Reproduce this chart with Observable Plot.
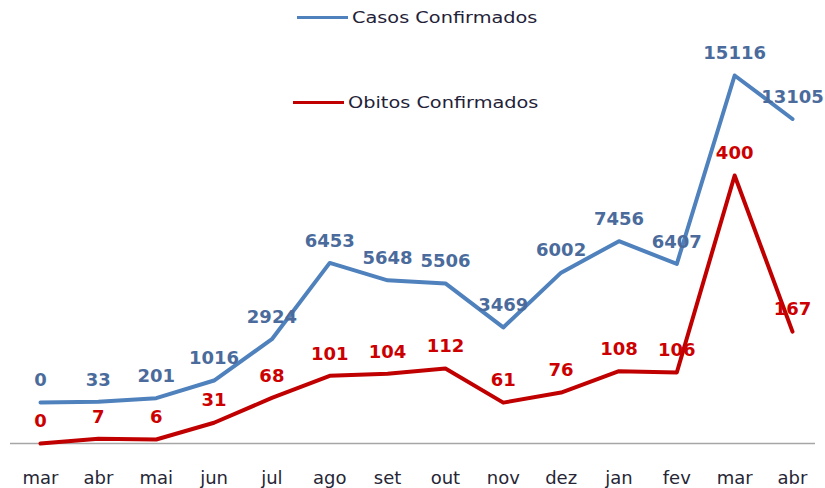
<!DOCTYPE html>
<html>
<head>
<meta charset="utf-8">
<script src="https://cdn.jsdelivr.net/npm/d3@7"></script>
<script src="https://cdn.jsdelivr.net/npm/@observablehq/plot@0.6"></script>
<style>
  html, body { margin: 0; padding: 0; background: #ffffff; }
  #wrap { position: relative; width: 825px; height: 488px; overflow: hidden; font-family: "DejaVu Sans", sans-serif; }
  #wrap svg { position: absolute; left: 0; top: 0; }
  .leg { position: absolute; display: flex; align-items: center; }
  .leg .sw { width: 51px; height: 3px; margin-right: 4px; }
  .leg .lab { font-size: 16.5px; color: #1f2238; transform: scaleX(1.17); transform-origin: left center; white-space: nowrap; }
</style>
</head>
<body>
<div id="wrap"></div>
<script>
const months = ["mar","abr","mai","jun","jul","ago","set","out","nov","dez","jan","fev","mar","abr"];
const casos = [0,33,201,1016,2924,6453,5648,5506,3469,6002,7456,6407,15116,13105];
const obitos = [0,7,6,31,68,101,104,112,61,76,108,106,400,167];
const seriesNames = ["Casos Confirmados", "Obitos Confirmados"];
const seriesColors = ["#4f81bd", "#c00000"];
const labelColors = ["#4a6b9b", "#cc0000"];

const idx = months.map((m, i) => i);
const data = idx.map(i => ({i, month: months[i], casos: casos[i], obitos: obitos[i]}));

const wrap = document.getElementById("wrap");
const xScale = {type: "point", domain: idx, range: [40, 792], padding: 0, round: false};
const baseStyle = {fontFamily: "DejaVu Sans, sans-serif", background: "none", overflow: "visible"};

// Cases layer (own vertical scale)
const plotCasos = Plot.plot({
  width: 825, height: 488,
  marginTop: 0, marginBottom: 0, marginLeft: 0, marginRight: 0,
  style: baseStyle,
  x: {...xScale, axis: null},
  y: {domain: [0, 15116], range: [402, 75], axis: null},
  marks: [
    Plot.line(data, {x: "i", y: "casos", stroke: seriesColors[0], strokeWidth: 4, strokeLinejoin: "round", strokeLinecap: "round"}),
    Plot.text(data, {x: "i", y: "casos", text: d => String(d.casos), dy: -22, fill: labelColors[0], fontWeight: "bold", fontSize: 18})
  ]
});

// Deaths layer + axis (own vertical scale)
const plotObitos = Plot.plot({
  width: 825, height: 488,
  marginTop: 0, marginBottom: 45, marginLeft: 10, marginRight: 10,
  style: baseStyle,
  x: {...xScale},
  y: {domain: [0, 400], range: [443, 175], axis: null},
  marks: [
    Plot.ruleY([0], {stroke: "#a6a6a6", strokeWidth: 1.5}),
    Plot.axisX({anchor: "bottom", tickSize: 0, tickPadding: 28, tickFormat: i => months[i], fontSize: 18, fill: "#262636", label: null}),
    Plot.line(data, {x: "i", y: "obitos", stroke: seriesColors[1], strokeWidth: 4, strokeLinejoin: "round", strokeLinecap: "round"}),
    Plot.text(data, {x: "i", y: "obitos", text: d => String(d.obitos), dy: -22, fill: labelColors[1], fontWeight: "bold", fontSize: 18})
  ]
});

wrap.appendChild(plotCasos);
wrap.appendChild(plotObitos);

// Legend (HTML)
const legendPos = [{left: 297, top: 7}, {left: 293, top: 92}];
seriesNames.forEach((name, k) => {
  const d = document.createElement("div");
  d.className = "leg";
  d.style.left = legendPos[k].left + "px";
  d.style.top = legendPos[k].top + "px";
  d.style.height = "20px";
  const sw = document.createElement("span");
  sw.className = "sw";
  sw.style.background = seriesColors[k];
  const lab = document.createElement("span");
  lab.className = "lab";
  lab.textContent = name;
  d.appendChild(sw);
  d.appendChild(lab);
  wrap.appendChild(d);
});
</script>
</body>
</html>
